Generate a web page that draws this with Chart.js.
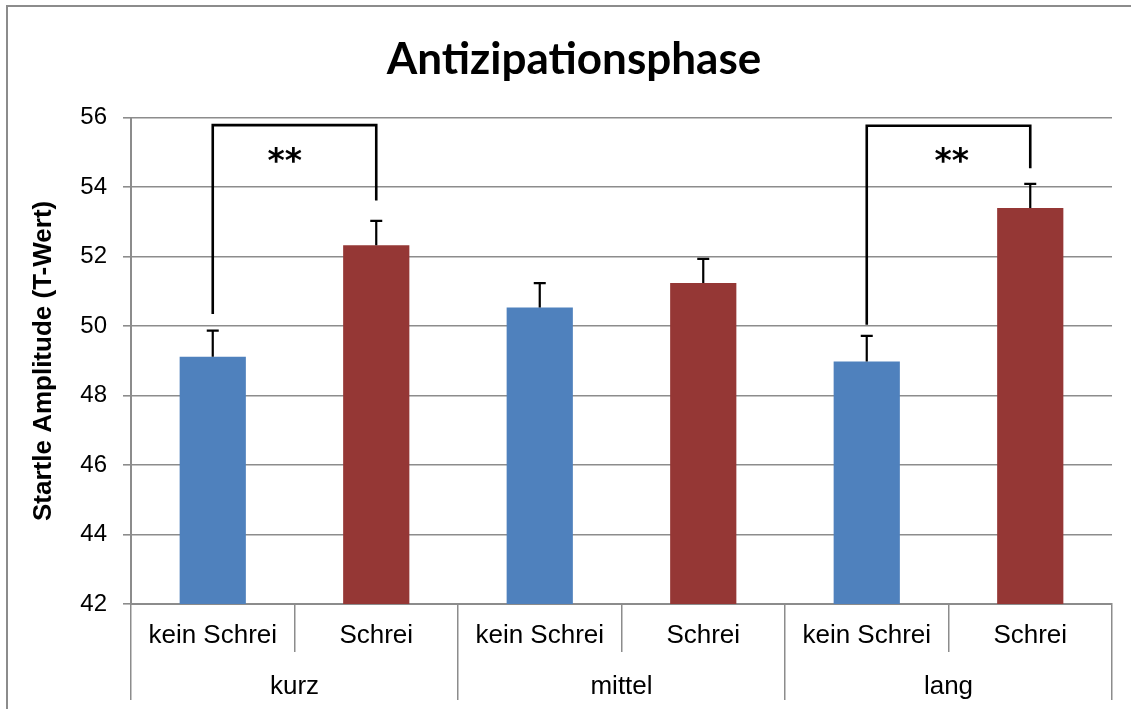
<!DOCTYPE html>
<html><head><meta charset="utf-8">
<script src="https://cdn.jsdelivr.net/npm/chart.js@4/dist/chart.umd.min.js"></script>
<style>
html,body{margin:0;padding:0;background:#fff;overflow:hidden;}
#wrap{position:relative;width:1131px;height:709px;}
#frame{position:absolute;left:6px;top:5px;width:1200px;height:800px;border:2px solid #8c8c8c;box-sizing:border-box;pointer-events:none;}
</style></head><body>
<div id="wrap"><canvas id="c"></canvas><div id="frame"></div></div>
<script>
// ---- data ----
const groups = ['kurz', 'mittel', 'lang'];
const conditions = ['kein Schrei', 'Schrei'];
const barLabels = ['kein Schrei', 'Schrei', 'kein Schrei', 'Schrei', 'kein Schrei', 'Schrei'];
const means = [49.12, 52.33, 50.54, 51.24, 48.98, 53.40];
const errors = [0.75, 0.70, 0.70, 0.70, 0.74, 0.70];
const yMin = 42, yMax = 56, yStep = 2;
const chartTitle = 'Antizipationsphase';
const yTitle = 'Startle Amplitude (T-Wert)';
// significance brackets (bar indices, data-space heights)
const bracketFrom = [0, 4];
const bracketTo = [1, 5];
const bracketBaseFrom = [50.35, 50.04];
const bracketBaseTo = [53.62, 54.55];
const bracketTop = [55.79, 55.77];
const bracketText = ['**', '**'];
const bracketTextAt = [0.44, 4.52];
const bracketTextY = [54.88, 54.88];

// ---- style ----
const condColors = ['#4F81BD', '#953735'];
const gridColor = '#8c8c8c';

const errorAndBrackets = {
  id: 'errorAndBrackets',
  afterDatasetsDraw(chart) {
    const ctx = chart.ctx;
    const xs = chart.scales.x, ys = chart.scales.y;
    const meta = chart.getDatasetMeta(0);
    ctx.save();
    ctx.strokeStyle = '#000';
    ctx.lineWidth = 2.2;
    meta.data.forEach((bar, i) => {
      const x = bar.x;
      const y0 = ys.getPixelForValue(means[i]);
      const y1 = ys.getPixelForValue(means[i] + errors[i]);
      ctx.beginPath();
      ctx.moveTo(x, y0); ctx.lineTo(x, y1);
      ctx.moveTo(x - 6, y1); ctx.lineTo(x + 6, y1);
      ctx.stroke();
    });
    ctx.lineWidth = 2.6;
    ctx.lineJoin = 'miter';
    for (let k = 0; k < bracketFrom.length; k++) {
      const xa = xs.getPixelForValue(bracketFrom[k]);
      const xb = xs.getPixelForValue(bracketTo[k]);
      ctx.beginPath();
      ctx.moveTo(xa, ys.getPixelForValue(bracketBaseFrom[k]));
      ctx.lineTo(xa, ys.getPixelForValue(bracketTop[k]));
      ctx.lineTo(xb, ys.getPixelForValue(bracketTop[k]));
      ctx.lineTo(xb, ys.getPixelForValue(bracketBaseTo[k]));
      ctx.stroke();
      ctx.fillStyle = '#000';
      ctx.font = 'bold 33px "DejaVu Sans"';
      ctx.textAlign = 'center';
      ctx.textBaseline = 'middle';
      ctx.fillText(bracketText[k], xs.getPixelForValue(bracketTextAt[k]), ys.getPixelForValue(bracketTextY[k]) + 7);
    }
    ctx.restore();
  }
};

new Chart(document.getElementById('c'), {
  type: 'bar',
  data: {
    labels: barLabels,
    datasets: [{
      data: means,
      backgroundColor: barLabels.map(l => condColors[conditions.indexOf(l)]),
      borderWidth: 0,
      barPercentage: 0.405,
      categoryPercentage: 1
    }]
  },
  options: {
    responsive: true,
    maintainAspectRatio: false,
    animation: false,
    events: [],
    layout: { padding: { left: 36, right: 19, top: 0, bottom: 9 } },
    plugins: {
      legend: { display: false },
      tooltip: { enabled: false },
      title: {
        display: true,
        text: chartTitle,
        color: '#000',
        font: { family: 'Lato', weight: 'bold', size: 44, lineHeight: 1.2 },
        padding: { top: 33, bottom: 32 }
      }
    },
    scales: {
      x: {
        type: 'category',
        position: 'bottom',
        weight: 0,
        offset: true,
        grid: { offset: true, drawOnChartArea: false, color: gridColor, lineWidth: 1.5, tickLength: 48 },
        border: { display: true, color: gridColor, width: 2 },
        ticks: { color: '#000', font: { family: 'Liberation Sans', size: 26 }, padding: -32, maxRotation: 0, minRotation: 0, autoSkip: false },
        afterFit(s) { s.height = 48; }
      },
      x2: {
        type: 'category',
        position: 'bottom',
        weight: 1,
        labels: groups,
        offset: true,
        grid: { offset: true, drawOnChartArea: false, color: gridColor, lineWidth: 1.5, tickLength: 48 },
        border: { display: false },
        ticks: { color: '#000', font: { family: 'Liberation Sans', size: 26 }, padding: -29, maxRotation: 0, minRotation: 0, autoSkip: false },
        afterFit(s) { s.height = 48; }
      },
      y: {
        min: yMin, max: yMax,
        ticks: { stepSize: yStep, color: '#000', font: { family: 'Liberation Sans', size: 24 }, padding: 16 },
        grid: { color: gridColor, lineWidth: 1.6, tickLength: 8 },
        border: { display: true, color: gridColor, width: 2 },
        title: {
          display: true, text: yTitle, color: '#000',
          font: { family: 'Liberation Sans', weight: 'bold', size: 26, lineHeight: 1.2 },
          padding: { top: -8, bottom: 0 }
        },
        afterFit(s) { s.width = 95; }
      }
    }
  },
  plugins: [errorAndBrackets]
});
</script>
</body></html>
